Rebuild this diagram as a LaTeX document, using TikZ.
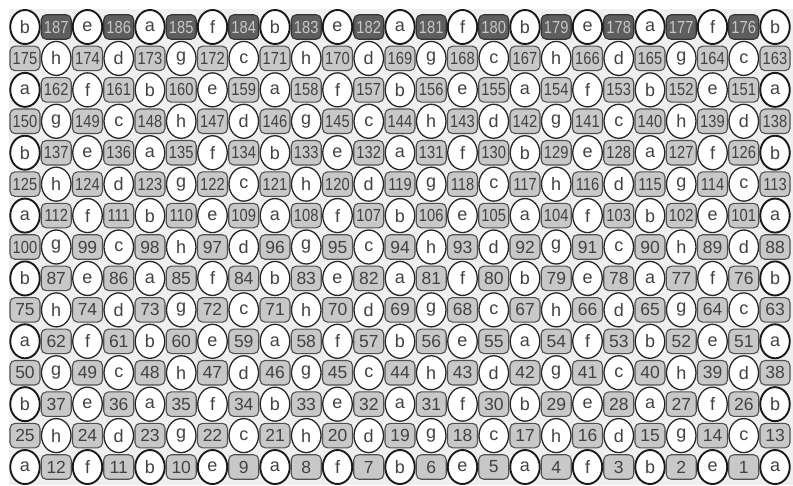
\documentclass[tikz,border=0pt]{standalone}
\usepackage{fontspec}
\setmainfont{Liberation Sans}
\usepackage{graphicx}
\usetikzlibrary{shapes.geometric}
\definecolor{boxfill}{HTML}{C8C8C8}
\definecolor{boxdark}{HTML}{5E5E5E}
\definecolor{boxline}{HTML}{505050}
\definecolor{inkc}{HTML}{424242}
\definecolor{bgc}{HTML}{EFEFEF}
\newcommand\myletter[1]{\ifcase#1 b\or e\or a\or f\or h\or d\or g\or c\fi}
\begin{document}
\begin{tikzpicture}[x=1pt,y=-1pt,
  lettercell/.style={ellipse, draw=black!85, line width=1.3pt, fill=white,
    minimum width=29.5pt, minimum height=34pt, inner sep=0pt, text=inkc,
    font=\fontsize{18}{18}\selectfont},
  edgeletter/.style={lettercell, line width=1.9pt, draw=black!90},
  numcell/.style={rectangle, rounded corners=5pt, draw=boxline, line width=1.1pt,
    fill=boxfill, minimum width=30pt, minimum height=24.5pt, inner sep=0pt,
    text=inkc, font=\fontsize{17.5}{17.5}\selectfont},
  topnum/.style={numcell, fill=boxdark, text=black!22, draw=black!80}]
\useasboundingbox (0,0) rectangle (793,485);
\fill[bgc] (9,9) rectangle (793,485);
\foreach \r in {0,...,14}{
  \foreach \c in {0,...,24}{
    \pgfmathtruncatemacro\s{mod(\r+\c,2)}
    \pgfmathsetmacro\px{25+31.25*\c}
    \pgfmathsetmacro\py{27+31.43*\r}
    \ifnum\s=0
      \pgfmathtruncatemacro\ii{mod(int(\c/2)+mod(\r,4)-mod(\r,2),4)+4*mod(\r,2)}
      \pgfmathtruncatemacro\edge{(\r==0)||(\r==14)||(\c==0)||(\c==24)}
      \ifnum\edge=1
        \node[edgeletter] (n\r-\c) at (\px,\py) {\myletter{\ii}};
      \else
        \node[lettercell] (n\r-\c) at (\px,\py) {\myletter{\ii}};
      \fi
    \else
      \pgfmathtruncatemacro\num{25*int((14-\r)/2)+12+13*mod(\r,2)-int(\c/2)}
      \ifnum\r=0
        \node[topnum] (n\r-\c) at (\px,\py) {\scalebox{0.84}[1]{\num}};
      \else
        \ifnum\num>99
          \node[numcell] (n\r-\c) at (\px,\py) {\scalebox{0.84}[1]{\num}};
        \else
          \node[numcell] (n\r-\c) at (\px,\py) {\num};
        \fi
      \fi
    \fi
  }
}
\end{tikzpicture}
\end{document}
